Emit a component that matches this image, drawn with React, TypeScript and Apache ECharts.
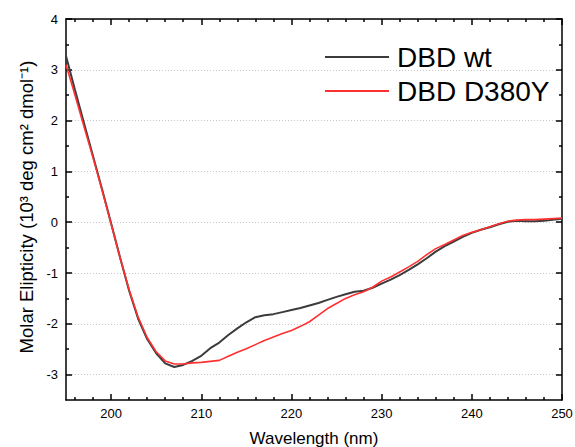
import React, { useEffect, useRef } from "react";
import * as echarts from "echarts";

const wavelength = [
  195, 196, 197, 198, 199, 200, 201, 202, 203, 204, 205, 206, 207, 208, 209, 210,
  211, 212, 213, 214, 215, 216, 217, 218, 219, 220, 221, 222, 223, 224, 225, 226,
  227, 228, 229, 230, 231, 232, 233, 234, 235, 236, 237, 238, 239, 240, 241, 242,
  243, 244, 245, 246, 247, 248, 249, 250,
];

const dbdWt = [
  3.27, 2.6, 1.95, 1.3, 0.65, -0.02, -0.7, -1.35, -1.9, -2.3, -2.58, -2.78, -2.85, -2.81, -2.73, -2.63,
  -2.48, -2.37, -2.22, -2.09, -1.97, -1.87, -1.83, -1.81, -1.77, -1.73, -1.69, -1.64, -1.59, -1.53, -1.47, -1.42,
  -1.37, -1.35, -1.29, -1.21, -1.13, -1.04, -0.94, -0.83, -0.71, -0.58, -0.47, -0.38, -0.29, -0.21, -0.15, -0.1,
  -0.04, 0.01, 0.03, 0.02, 0.02, 0.03, 0.05, 0.07,
];

const dbdD380Y = [
  3.1, 2.5, 1.88, 1.27, 0.63, -0.03, -0.7, -1.33, -1.87, -2.27, -2.55, -2.73, -2.79, -2.79, -2.77, -2.76,
  -2.74, -2.72, -2.64, -2.56, -2.49, -2.41, -2.33, -2.26, -2.19, -2.13, -2.05, -1.96, -1.83, -1.7, -1.6, -1.5,
  -1.43, -1.37, -1.28, -1.16, -1.08, -0.98, -0.88, -0.77, -0.64, -0.52, -0.44, -0.35, -0.26, -0.2, -0.15, -0.09,
  -0.03, 0.02, 0.04, 0.05, 0.05, 0.06, 0.07, 0.08,
];

const xMajorTicks = [200, 210, 220, 230, 240, 250];
const xMinorTicks = [
  196, 198, 202, 204, 206, 208, 212, 214, 216, 218, 222, 224, 226, 228, 232, 234, 236, 238, 242, 244, 246, 248,
];
const yMajorTicks = [-3, -2, -1, 0, 1, 2, 3, 4];
const yMinorTicks = [-2.5, -1.5, -0.5, 0.5, 1.5, 2.5, 3.5];

const seriesNames = ["DBD wt", "DBD D380Y"];
const FONT = "Liberation Sans, Arial, sans-serif";

export default function App() {
  const ref = useRef<HTMLDivElement>(null);
  useEffect(() => {
    if (!ref.current) return;
    const chart = echarts.init(ref.current, undefined, { renderer: "svg" });
    const X_MIN = 195, X_MAX = 250, Y_MIN = -3.5, Y_MAX = 4;
    const lineCol = "#000";
    const mkX = (pos: string, ticks: number[], len: number, main: boolean) => ({
      type: "value",
      position: pos,
      min: X_MIN,
      max: X_MAX,
      axisLine: { show: main, onZero: false, lineStyle: { color: lineCol, width: 1.5 } },
      axisTick: { show: true, inside: true, length: len, customValues: ticks, lineStyle: { color: lineCol, width: 1.5 } },
      axisLabel: { show: false, customValues: ticks },
      splitLine: { show: false },
    });
    const mkY = (pos: string, ticks: number[], len: number, main: boolean) => ({
      type: "value",
      position: pos,
      min: Y_MIN,
      max: Y_MAX,
      axisLine: { show: main, onZero: false, lineStyle: { color: lineCol, width: 1.5 } },
      axisTick: { show: true, inside: true, length: len, customValues: ticks, lineStyle: { color: lineCol, width: 1.5 } },
      axisLabel: { show: false, customValues: ticks },
      splitLine: { show: false },
    });
    const xMain: any = mkX("bottom", xMajorTicks, 6, true);
    xMain.axisLabel = {
      show: true,
      customValues: xMajorTicks,
      fontSize: 13,
      fontFamily: FONT,
      color: "#000",
      margin: 7,
    };
    xMain.name = "Wavelength (nm)";
    xMain.nameLocation = "middle";
    xMain.nameGap = 30;
    xMain.nameTextStyle = { fontSize: 17, fontFamily: FONT, color: "#000" };
    const yMain: any = mkY("left", yMajorTicks, 6, true);
    yMain.axisLabel = {
      show: true,
      customValues: yMajorTicks,
      fontSize: 13,
      fontFamily: FONT,
      color: "#000",
      margin: 8,
    };
    yMain.splitLine = { show: true, lineStyle: { color: "#c8c8c8", type: [1, 2], width: 1 } };
    yMain.name = "Molar Elipticity (10³ deg cm² dmol⁻¹)";
    yMain.nameLocation = "middle";
    yMain.nameGap = 27;
    yMain.nameTextStyle = { fontSize: 18.5, fontFamily: FONT, color: "#000", padding: [0, 0, 0, 5] };

    chart.setOption({
      animation: false,
      backgroundColor: "#fff",
      grid: { left: 66, right: 13, top: 19, bottom: 47, containLabel: false, outerBoundsMode: "none" },
      legend: {
        orient: "vertical",
        left: 325,
        top: 41,
        padding: 0,
        itemWidth: 64,
        itemHeight: 14,
        itemGap: 2,
        icon: "path://M0,0 L64,0 L64,2 L0,2 Z",
        textStyle: { fontSize: 28, fontFamily: FONT, color: "#000", lineHeight: 32, padding: [0, 0, 0, 3] },
        data: seriesNames,
      },
      xAxis: [
        xMain,
        mkX("bottom", xMinorTicks, 3, false),
        mkX("top", xMajorTicks, 6, true),
        mkX("top", xMinorTicks, 3, false),
      ],
      yAxis: [
        yMain,
        mkY("left", yMinorTicks, 3, false),
        mkY("right", yMajorTicks, 6, true),
        mkY("right", yMinorTicks, 3, false),
      ],
      series: [
        {
          name: seriesNames[0],
          type: "line",
          symbol: "none",
          xAxisIndex: 0,
          yAxisIndex: 0,
          data: wavelength.map((w, i) => [w, dbdWt[i]]),
          lineStyle: { color: "#3c3c3c", width: 2 },
          itemStyle: { color: "#3c3c3c" },
          z: 2,
        },
        {
          name: seriesNames[1],
          type: "line",
          symbol: "none",
          xAxisIndex: 0,
          yAxisIndex: 0,
          data: wavelength.map((w, i) => [w, dbdD380Y[i]]),
          lineStyle: { color: "#ff3030", width: 1.6 },
          itemStyle: { color: "#ff3030" },
          z: 3,
        },
      ],
    });
    return () => chart.dispose();
  }, []);
  return <div ref={ref} style={{ width: 575, height: 447, position: "absolute", left: 0, top: 0 }} />;
}
